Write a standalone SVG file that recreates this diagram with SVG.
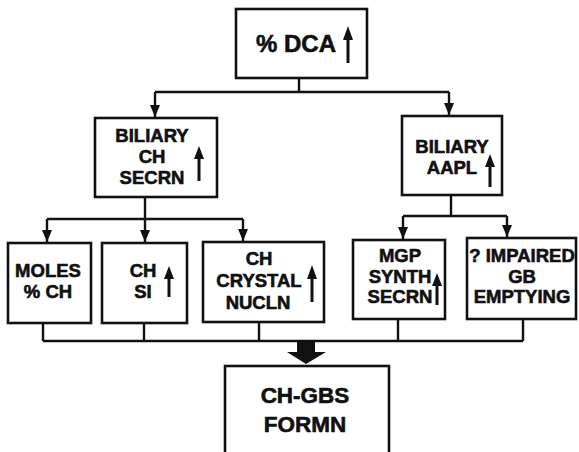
<svg xmlns="http://www.w3.org/2000/svg" width="579" height="452" viewBox="0 0 579 452">
<defs>
<style>
.box{fill:#fff;stroke:#111;stroke-width:2.6}
.ln{fill:none;stroke:#111;stroke-width:2.4}
.t{font-family:"Liberation Sans",Arial,sans-serif;font-weight:bold;font-size:18.5px;fill:#111;stroke:#111;stroke-width:0.6;text-anchor:middle}
.big{font-size:22.5px}
.top{font-size:24px}
.up{fill:none;stroke:#111;stroke-width:3}
</style>
<marker id="ah" viewBox="0 0 12 10" refX="12" refY="5" markerWidth="12" markerHeight="10" markerUnits="userSpaceOnUse" orient="auto">
<path d="M0,0 L12,5 L0,10 Z" fill="#111"/>
</marker>
</defs>
<g id="connectors">
<path class="ln" d="M299,78 V92"/>
<path class="ln" d="M155,92 H449"/>
<path class="ln" d="M155,92 V117" marker-end="url(#ah)"/>
<path class="ln" d="M449,92 V115" marker-end="url(#ah)"/>
<path class="ln" d="M145,197 V219"/>
<path class="ln" d="M47,219 H243"/>
<path class="ln" d="M47,219 V242" marker-end="url(#ah)"/>
<path class="ln" d="M145,219 V242" marker-end="url(#ah)"/>
<path class="ln" d="M243,219 V241" marker-end="url(#ah)"/>
<path class="ln" d="M451,195 V216"/>
<path class="ln" d="M403,216 H507"/>
<path class="ln" d="M403,216 V239" marker-end="url(#ah)"/>
<path class="ln" d="M507,216 V237" marker-end="url(#ah)"/>
<path class="ln" d="M43,323 V341 M144,323 V341 M259,322 V341 M398,319 V341 M523,319 V341"/>
<path class="ln" d="M43,341 H523"/>
<path d="M297,340 H315 V352 H326 L306,364 L287,352 H297 Z" fill="#111"/>
</g>
<g id="n-dca">
<rect class="box" x="236" y="9" width="131" height="69"/>
<text class="t top" x="296" y="52">% DCA</text>
<path class="up" d="M348,38 V63" /><path d="M348,26 L353,40 L343,40 Z" fill="#111"/>
</g>
<g id="n-biliary-ch">
<rect class="box" x="95" y="118" width="122" height="79"/>
<text class="t" x="152" y="142">BILIARY</text>
<text class="t" x="152" y="163">CH</text>
<text class="t" x="152" y="184">SECRN</text>
<path class="up" d="M199,157 V181"/><path d="M199,146 L204,159 L194,159 Z" fill="#111"/>
</g>
<g id="n-biliary-aapl">
<rect class="box" x="402" y="116" width="100" height="79"/>
<text class="t" x="452" y="153">BILIARY</text>
<text class="t" x="452" y="174">AAPL</text>
<path class="up" d="M490,165 V187"/><path d="M490,154 L495,167 L485,167 Z" fill="#111"/>
</g>
<g id="n-moles">
<rect class="box" x="8" y="243" width="83" height="80"/>
<text class="t" x="48" y="277">MOLES</text>
<text class="t" x="48" y="298">% CH</text>
</g>
<g id="n-chsi">
<rect class="box" x="102" y="243" width="85" height="80"/>
<text class="t" x="143" y="277">CH</text>
<text class="t" x="143" y="298">SI</text>
<path class="up" d="M169,277 V297"/><path d="M169,266 L174,279 L164,279 Z" fill="#111"/>
</g>
<g id="n-crystal">
<rect class="box" x="203" y="242" width="121" height="80"/>
<text class="t" x="259" y="265">CH</text>
<text class="t" x="259" y="287">CRYSTAL</text>
<text class="t" x="258" y="309">NUCLN</text>
<path class="up" d="M312,277 V302"/><path d="M312,265 L317,279 L307,279 Z" fill="#111"/>
</g>
<g id="n-mgp">
<rect class="box" x="353" y="240" width="92" height="79"/>
<text class="t" x="400" y="262">MGP</text>
<text class="t" x="400" y="283">SYNTH</text>
<text class="t" x="400" y="303">SECRN</text>
<path class="up" d="M437,284 V305"/><path d="M437,273 L442,286 L432,286 Z" fill="#111"/>
</g>
<g id="n-impaired">
<rect class="box" x="467" y="238" width="109" height="81"/>
<text class="t" x="522" y="262">? IMPAIRED</text>
<text class="t" x="522" y="283">GB</text>
<text class="t" x="522" y="303">EMPTYING</text>
</g>
<g id="n-chgbs">
<rect class="box" x="225" y="366" width="164" height="100"/>
<text class="t big" x="305" y="403">CH-GBS</text>
<text class="t big" x="305" y="432">FORMN</text>
</g>
</svg>
